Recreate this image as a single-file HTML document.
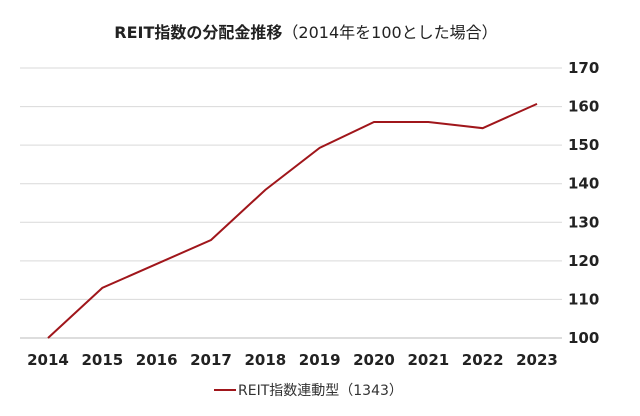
<!DOCTYPE html>
<html><head><meta charset="utf-8">
<style>
body{margin:0;background:#fff;}
svg{display:block;font-family:"DejaVu Sans","Noto Sans CJK JP",sans-serif;}
</style></head><body>
<svg id="chart" width="640" height="416" viewBox="0 0 640 416">
<text x="306" y="38" text-anchor="middle" font-size="16" fill="#222"><tspan font-weight="bold">REIT指数の分配金推移</tspan>（2014年を100とした場合）</text>
<g id="grid"></g><g id="xlabels"></g><g id="ylabels"></g><g id="series"></g>
<g>
<line x1="214" y1="390" x2="236" y2="390" stroke="#a0161b" stroke-width="2"/>
<text x="238" y="395" font-size="14" fill="#333">REIT指数連動型（1343）</text>
</g>
</svg>
<script>
const categories=["2014","2015","2016","2017","2018","2019","2020","2021","2022","2023"];
const values=[100,113,119.2,125.4,138.4,149.3,156,156,154.4,160.7];
const yTicks=[100,110,120,130,140,150,160,170];
const NS="http://www.w3.org/2000/svg";
const x=i=>48+i*(537-48)/(categories.length-1);
const y=v=>338-(v-100)*(270/70);
function mk(t,a,p){const e=document.createElementNS(NS,t);for(const k in a)e.setAttribute(k,a[k]);p.appendChild(e);return e;}
const g=document.getElementById('grid'),yl=document.getElementById('ylabels'),xl=document.getElementById('xlabels'),s=document.getElementById('series');
yTicks.forEach(v=>{
 const l=mk('line',{x1:20,x2:562,y1:y(v),y2:y(v),stroke:v===100?'#bbb':'#d9d9d9','stroke-width':1},g);
 
 
 const t=mk('text',{x:568,y:y(v)+5,'font-size':15,'font-weight':'bold',fill:'#222'},yl);
 t.textContent=v;
 
 
});
categories.forEach((c,i)=>{
 const t=mk('text',{x:x(i),y:365,'text-anchor':'middle','font-size':15,'font-weight':'bold',fill:'#222'},xl);
 t.textContent=c;
 
 
});
const p=mk('polyline',{points:values.map((v,i)=>x(i)+','+y(v)).join(' '),fill:'none',stroke:'#a0161b','stroke-width':2},s);


</script>
</body></html>
